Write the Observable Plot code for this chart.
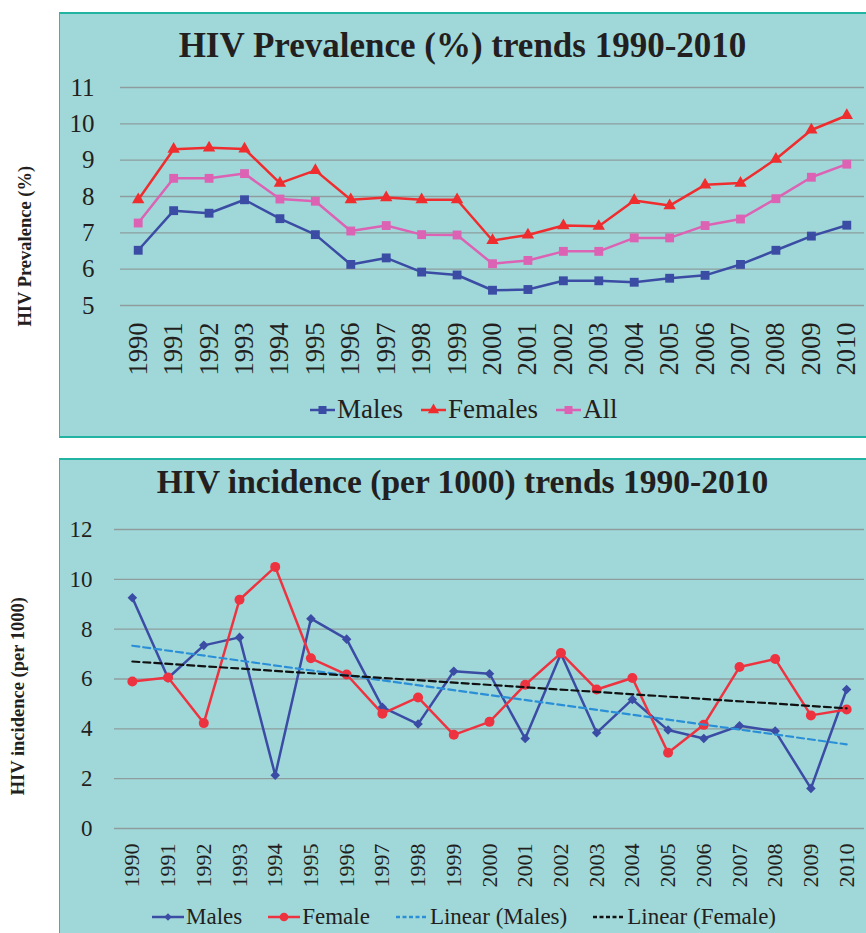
<!DOCTYPE html>
<html><head><meta charset="utf-8">
<script src="https://cdn.jsdelivr.net/npm/d3@7"></script>
<script src="https://cdn.jsdelivr.net/npm/@observablehq/plot@0.6"></script>
<style>
html,body{margin:0;padding:0;background:#fff;}
body{width:866px;height:933px;position:relative;overflow:hidden;font-family:"Liberation Serif","Times New Roman",serif;color:#231f20;}
.panel{position:absolute;background:#a0d8d9;border-top:2px solid #22b4a2;border-left:1.5px solid #3bb3a6;box-sizing:border-box;}
.title{position:absolute;left:59px;width:807px;text-align:center;font-weight:bold;white-space:nowrap;line-height:1;}
.ytitle{position:absolute;width:300px;text-align:center;font-weight:bold;white-space:nowrap;line-height:1;transform:rotate(-90deg);transform-origin:50% 50%;}
.plotwrap{position:absolute;left:0;}
.plotwrap svg, .plotwrap svg text{font-family:"Liberation Serif","Times New Roman",serif !important;}
.legend{position:absolute;display:flex;align-items:center;white-space:nowrap;line-height:1;font-family:"Liberation Serif","Times New Roman",serif;}
.legend .item{display:flex;align-items:center;}
</style>
</head><body>
<div class="panel" style="left:59px;top:12px;width:807px;height:426px;border-bottom:2px solid #22b4a2;"></div>
<div class="panel" style="left:59px;top:458px;width:807px;height:475px;"></div>
<div class="title" style="top:28px;font-size:35px;">HIV Prevalence (%) trends 1990-2010</div>
<div class="title" style="top:465px;font-size:33.5px;">HIV incidence (per 1000) trends 1990-2010</div>
<div class="ytitle" style="font-size:18.5px;left:-125px;top:237px;">HIV Prevalence (%)</div>
<div class="ytitle" style="font-size:18.5px;left:-132px;top:687px;">HIV incidence (per 1000)</div>
<div id="p1" class="plotwrap" style="top:0;"></div>
<div id="p2" class="plotwrap" style="top:440px;"></div>
<div id="leg1" class="legend" style="left:310px;top:396px;font-size:27px;gap:18px;"></div>
<div id="leg2" class="legend" style="left:152px;top:905px;font-size:23px;gap:26px;"></div>
<script>
// ---- Data ----
const years = [1990,1991,1992,1993,1994,1995,1996,1997,1998,1999,2000,2001,2002,2003,2004,2005,2006,2007,2008,2009,2010];

// HIV prevalence (%)
const prevMales   = [6.52,7.61,7.54,7.91,7.39,6.95,6.13,6.31,5.92,5.84,5.42,5.44,5.68,5.68,5.64,5.75,5.83,6.13,6.52,6.91,7.21];
const prevFemales = [7.91,9.30,9.34,9.31,8.37,8.72,7.91,7.97,7.91,7.91,6.79,6.94,7.20,7.18,7.89,7.75,8.32,8.37,9.03,9.83,10.23];
const prevAll     = [7.27,8.50,8.50,8.63,7.93,7.87,7.05,7.20,6.95,6.94,6.15,6.24,6.49,6.49,6.86,6.86,7.20,7.38,7.94,8.53,8.89];
const prevTicks   = [5,6,7,8,9,10,11];

// HIV incidence (per 1000)
const incMales  = [9.26,6.04,7.35,7.67,2.14,8.42,7.60,4.87,4.19,6.31,6.21,3.61,7.01,3.84,5.18,3.95,3.61,4.12,3.91,1.61,5.58];
const incFemale = [5.90,6.06,4.23,9.18,10.50,6.83,6.18,4.61,5.26,3.76,4.28,5.77,7.04,5.58,6.04,3.04,4.16,6.48,6.80,4.54,4.78];
const incTicks  = [0,2,4,6,8,10,12];

const C = {
  blue: "#3b4ca4", red: "#ef2d2f", pink: "#dc62b4",
  red2: "#ee3340", trendBlue: "#2b8fd8", trendBlack: "#111111",
  grid: "#8e9c9d", text: "#231f20"
};

const rows = arr => years.map((year, i) => ({year, v: arr[i]}));
const font = '"Liberation Serif", "Times New Roman", serif';

// ---- Chart 1: prevalence ----
const p1 = Plot.plot({
  width: 866, height: 440,
  marginLeft: 120, marginRight: 2, marginTop: 87, marginBottom: 135,
  style: {background: "transparent", fontFamily: font, color: C.text, overflow: "visible"},
  x: {type: "linear", domain: [1989.5, 2010.5]},
  y: {domain: [5, 11]},
  marks: [
    Plot.ruleY(prevTicks, {stroke: C.grid, strokeWidth: 1.3}),
    Plot.axisY(prevTicks, {tickSize: 0, tickPadding: 26, fontSize: 25, fontFamily: font, tickFormat: d => String(d), label: null, fill: C.text}),
    Plot.axisX(years, {tickSize: 0, tickRotate: -90, tickPadding: 17, fontSize: 26.5, fontFamily: font, tickFormat: d => String(d), label: null, fill: C.text}),
    Plot.line(rows(prevMales), {x: "year", y: "v", stroke: C.blue, strokeWidth: 2.5}),
    Plot.dot(rows(prevMales), {x: "year", y: "v", symbol: "square", r: 5, fill: C.blue}),
    Plot.line(rows(prevFemales), {x: "year", y: "v", stroke: C.red, strokeWidth: 2.5}),
    Plot.dot(rows(prevFemales), {x: "year", y: "v", symbol: "triangle", r: 4.6, fill: C.red}),
    Plot.line(rows(prevAll), {x: "year", y: "v", stroke: C.pink, strokeWidth: 2.5}),
    Plot.dot(rows(prevAll), {x: "year", y: "v", symbol: "square", r: 5, fill: C.pink})
  ]
});
document.getElementById("p1").appendChild(p1);

// ---- Chart 2: incidence ----
const p2 = Plot.plot({
  width: 866, height: 493,
  marginLeft: 114, marginRight: 2, marginTop: 89, marginBottom: 105,
  style: {background: "transparent", fontFamily: font, color: C.text, overflow: "visible"},
  x: {type: "linear", domain: [1989.5, 2010.5]},
  y: {domain: [0, 12]},
  marks: [
    Plot.ruleY(incTicks, {stroke: C.grid, strokeWidth: 1.3}),
    Plot.axisY(incTicks, {tickSize: 0, tickPadding: 22, fontSize: 23, fontFamily: font, tickFormat: d => String(d), label: null, fill: C.text}),
    Plot.axisX(years, {tickSize: 0, tickRotate: -90, tickPadding: 15, fontSize: 22, fontFamily: font, tickFormat: d => String(d), label: null, fill: C.text}),
    Plot.line(rows(incMales), {x: "year", y: "v", stroke: C.blue, strokeWidth: 2.5}),
    Plot.dot(rows(incMales), {x: "year", y: "v", symbol: "diamond2", r: 4.3, fill: C.blue}),
    Plot.line(rows(incFemale), {x: "year", y: "v", stroke: C.red2, strokeWidth: 2.5}),
    Plot.dot(rows(incFemale), {x: "year", y: "v", symbol: "circle", r: 5, fill: C.red2}),
    Plot.linearRegressionY(rows(incMales), {x: "year", y: "v", ci: 0, stroke: C.trendBlue, strokeWidth: 2.2, strokeDasharray: "7,4"}),
    Plot.linearRegressionY(rows(incFemale), {x: "year", y: "v", ci: 0, stroke: C.trendBlack, strokeWidth: 2.2, strokeDasharray: "7,4"})
  ]
});
document.getElementById("p2").appendChild(p2);

// ---- Legends ----
function swatch(w, color, symbol, dash) {
  const ns = "http://www.w3.org/2000/svg";
  const s = document.createElementNS(ns, "svg");
  s.setAttribute("width", w); s.setAttribute("height", 14);
  s.style.marginRight = "2px";
  const l = document.createElementNS(ns, "line");
  l.setAttribute("x1", 0); l.setAttribute("x2", w); l.setAttribute("y1", 7); l.setAttribute("y2", 7);
  l.setAttribute("stroke", color); l.setAttribute("stroke-width", 2.5);
  if (dash) l.setAttribute("stroke-dasharray", dash);
  s.appendChild(l);
  if (symbol) {
    const p = document.createElementNS(ns, "path");
    p.setAttribute("d", d3.symbol(symbol.type, symbol.size)());
    p.setAttribute("transform", `translate(${w/2},7)`);
    p.setAttribute("fill", color);
    s.appendChild(p);
  }
  return s;
}
function legend(id, items, w) {
  const el = document.getElementById(id);
  for (const it of items) {
    const d = document.createElement("div"); d.className = "item";
    d.appendChild(swatch(w, it.color, it.symbol, it.dash));
    const t = document.createElement("span"); t.textContent = it.label;
    d.appendChild(t); el.appendChild(d);
  }
}
legend("leg1", [
  {label: "Males", color: C.blue, symbol: {type: d3.symbolSquare, size: 64}},
  {label: "Females", color: C.red, symbol: {type: d3.symbolTriangle, size: 55}},
  {label: "All", color: C.pink, symbol: {type: d3.symbolSquare, size: 64}}
], 25);
legend("leg2", [
  {label: "Males", color: C.blue, symbol: {type: d3.symbolDiamond2, size: 36}},
  {label: "Female", color: C.red2, symbol: {type: d3.symbolCircle, size: 60}},
  {label: "Linear (Males)", color: C.trendBlue, dash: "4,2.5"},
  {label: "Linear (Female)", color: C.trendBlack, dash: "4,2.5"}
], 32);
</script>
</body></html>
